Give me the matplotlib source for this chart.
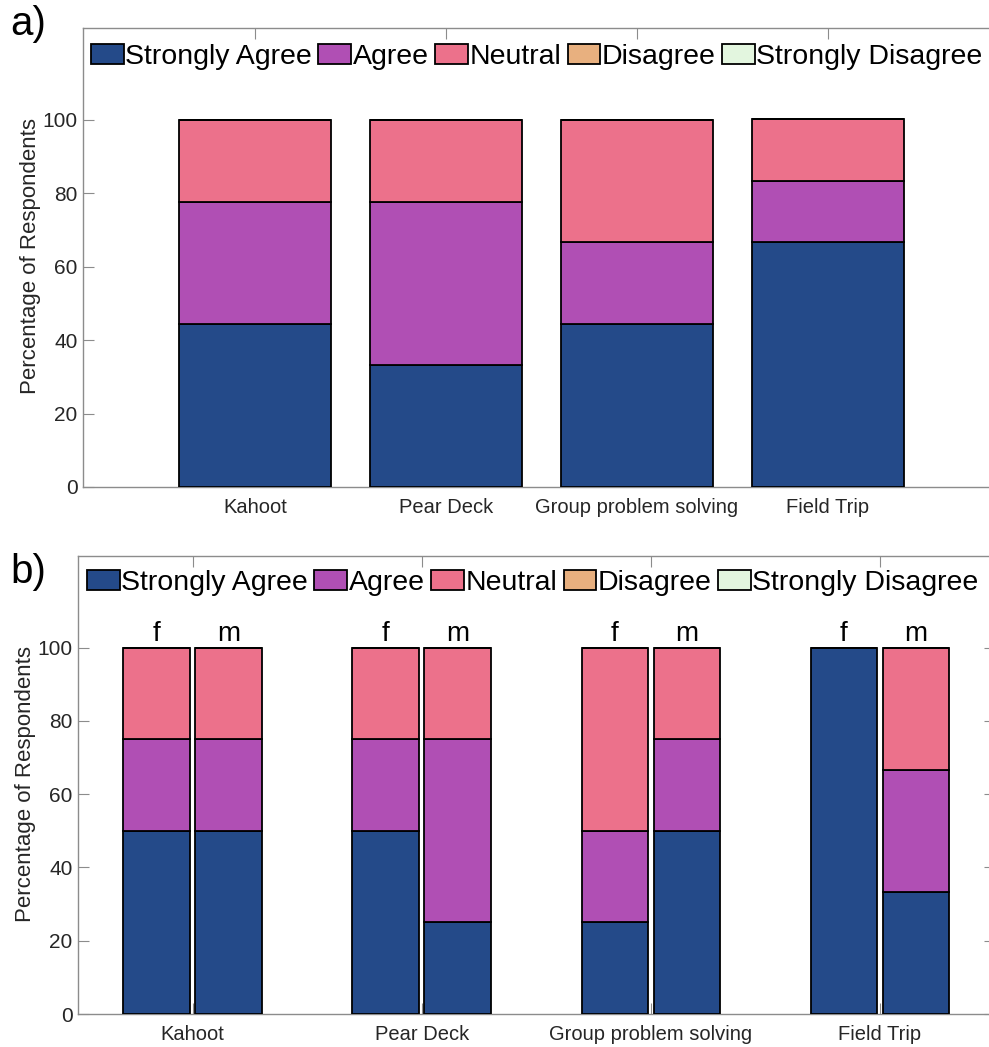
import matplotlib
matplotlib.use("Agg")
import matplotlib.pyplot as plt
import numpy as np

plt.rcParams["font.family"] = ["Liberation Sans", "DejaVu Sans"]

levels = ["Strongly Agree", "Agree", "Neutral", "Disagree", "Strongly Disagree"]
colors = ["#244a89", "#b04fb4", "#ec718b", "#e8b07f", "#e3f6df"]
methods = ["Kahoot", "Pear Deck", "Group problem solving", "Field Trip"]

# panel a: all respondents (% per level)
all_sa = [44.4, 33.3, 44.4, 66.7]
all_a = [33.3, 44.4, 22.2, 16.7]
all_n = [22.2, 22.2, 33.3, 16.7]
all_d = [0, 0, 0, 0]
all_sd = [0, 0, 0, 0]

# panel b: by gender
female_sa = [50, 50, 25, 100]
female_a = [25, 25, 25, 0]
female_n = [25, 25, 50, 0]
male_sa = [50, 25, 50, 33.3]
male_a = [25, 50, 25, 33.3]
male_n = [25, 25, 25, 33.3]
zeros = [0, 0, 0, 0]

W, H = 989, 1047
AX_GRAY = "#8c8c8c"
TXT = "#262626"


def px_axes(fig, left, right, top, bottom):
    return fig.add_axes([left / W, 1 - bottom / H, (right - left) / W, (bottom - top) / H])


def stacked(ax, x, series, width):
    bottom = np.zeros(len(x))
    bars = []
    for vals, c in zip(series, colors):
        vals = np.asarray(vals, dtype=float)
        b = ax.bar(x, vals, width, bottom=bottom, color=c, edgecolor="black", linewidth=1.3, zorder=3)
        bars.append(b)
        bottom += vals
    return bars


def style(ax, x, xlim):
    ax.set_xlim(*xlim)
    ax.set_ylim(0, 125)
    ax.set_yticks(np.arange(0, 101, 20))
    ax.set_xticks(x)
    ax.set_xticklabels(methods, fontsize=14.5, color=TXT)
    ax.tick_params(axis="y", labelsize=15, labelcolor=TXT, pad=4)
    ax.tick_params(axis="x", pad=8)
    ax.tick_params(direction="in", length=8, width=0.8, color=AX_GRAY, top=True, right=True)
    for s in ax.spines.values():
        s.set_color(AX_GRAY)
        s.set_linewidth(1.0)
    ax.set_ylabel("Percentage of Respondents", fontsize=16, color=TXT)


def add_legend(fig, handles, x, y):
    fig.legend(handles, levels, loc="center left", bbox_to_anchor=(x / W, 1 - y / H),
               ncol=5, frameon=False, fontsize=20.5, handlelength=1.15, handleheight=0.7,
               handletextpad=0.05, columnspacing=0.23, borderpad=0, borderaxespad=0)


fig = plt.figure(figsize=(W / 100, H / 100), dpi=100)

# ---- panel a
ax1 = px_axes(fig, 83, 1000, 28, 487)
x1 = np.arange(1, len(methods) + 1)
bars1 = stacked(ax1, x1, [all_sa, all_a, all_n, all_d, all_sd], 0.8)
style(ax1, x1, (0.1, 4.9))
ax1.yaxis.set_label_coords(-42 / 917, 0.503)
add_legend(fig, [b[0] for b in bars1], 91, 57)
fig.text(28 / W, 1 - 24 / H, "a)", fontsize=29, ha="center", va="center")

# ---- panel b
ax2 = px_axes(fig, 78, 994.5, 556, 1014)
x2 = np.arange(1, len(methods) + 1)
off, bw = 0.157, 0.29
bars2 = stacked(ax2, x2 - off, [female_sa, female_a, female_n, zeros, zeros], bw)
stacked(ax2, x2 + off, [male_sa, male_a, male_n, zeros, zeros], bw)
style(ax2, x2, (0.5, 4.5))
ax2.yaxis.set_label_coords(-42 / 916.5, 0.502)
for xi in x2:
    ax2.text(xi - off, 101.9, "f", fontsize=20, ha="center", va="baseline")
    ax2.text(xi + off, 101.9, "m", fontsize=20, ha="center", va="baseline")
add_legend(fig, [b[0] for b in bars2], 87, 583)
fig.text(28 / W, 1 - 572 / H, "b)", fontsize=29, ha="center", va="center")

fig.savefig("out.png", dpi=100)
